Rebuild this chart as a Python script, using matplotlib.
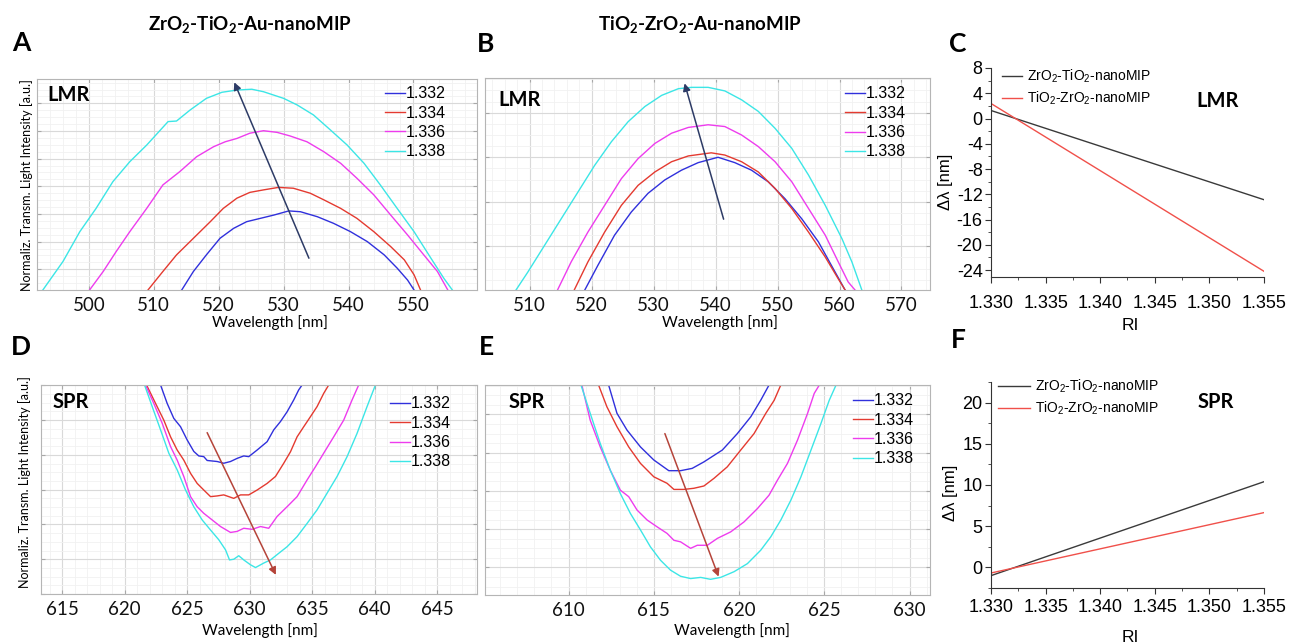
"""Refractive-index response of the LMR and SPR bands (ZrO2/TiO2 nanoMIP)."""
import matplotlib.pyplot as plt
from matplotlib.ticker import MultipleLocator, AutoMinorLocator, FormatStrFormatter

plt.rcParams["axes.unicode_minus"] = False
plt.rcParams["mathtext.fontset"] = "custom"
plt.rcParams["mathtext.rm"] = "Liberation Sans"
plt.rcParams["mathtext.bf"] = "Lato:bold"

W, H = 1300, 644

RI_LABELS = ["1.332", "1.334", "1.336", "1.338"]
SPEC_COLORS = ["#3030dc", "#e43a30", "#ee3cee", "#3ce6e6"]

# ---- A: ZrO2-TiO2-Au-nanoMIP, LMR (order 1.332, 1.334, 1.336, 1.338)
A_WL = [
    [514.3, 516.1, 518.1, 520.2, 522.3, 524.3, 526.4, 528.5, 530.8, 532.6, 535.2,
     537.7, 540.3, 542.9, 545.5, 547.5, 549.1, 550.1],
    [509.1, 511.4, 513.5, 516.1, 518.7, 520.7, 522.8, 524.8, 526.9, 529.2, 531.5,
     534.1, 536.2, 538.8, 541.3, 543.9, 546.5, 548.6, 550.1, 551.1],
    [500.1, 502.2, 504.2, 506.3, 508.9, 511.4, 514.0, 516.6, 519.2, 521.0, 522.8,
     524.8, 526.9, 529.0, 531.0, 533.6, 536.2, 538.8, 541.3, 543.9, 546.5, 549.1,
     551.6, 553.7, 555.3],
    [492.9, 496.0, 498.6, 501.1, 503.7, 506.3, 508.9, 512.2, 513.5, 515.6, 518.1,
     520.5, 522.8, 525.1, 526.9, 530.0, 532.1, 534.6, 537.2, 539.8, 542.4, 544.9,
     547.5, 550.1, 552.7, 554.7, 556.0],
]
A_INT = [
    [0.25, 0.92, 1.52, 2.12, 2.48, 2.72, 2.84, 2.96, 3.11, 3.08, 2.90,
     2.66, 2.36, 2.00, 1.52, 1.04, 0.61, 0.25],
    [0.25, 0.92, 1.52, 2.12, 2.72, 3.20, 3.57, 3.78, 3.87, 3.96, 3.93,
     3.75, 3.51, 3.20, 2.84, 2.36, 1.82, 1.34, 0.80, 0.25],
    [0.25, 0.92, 1.64, 2.36, 3.20, 4.05, 4.53, 5.07, 5.43, 5.61, 5.73,
     5.92, 6.01, 5.95, 5.82, 5.61, 5.25, 4.83, 4.29, 3.69, 2.96, 2.24,
     1.52, 0.92, 0.25],
    [0.25, 1.28, 2.36, 3.20, 4.17, 4.89, 5.49, 6.34, 6.36, 6.76, 7.18,
     7.40, 7.48, 7.51, 7.42, 7.18, 6.94, 6.58, 6.04, 5.49, 4.83, 4.05,
     3.20, 2.36, 1.40, 0.67, 0.25],
]

# ---- B: TiO2-ZrO2-Au-nanoMIP, LMR
B_WL = [
    [518.9, 521.0, 523.7, 526.4, 529.1, 531.8, 534.5, 537.2, 540.4, 543.1, 545.8,
     548.5, 551.2, 553.9, 556.6, 558.7, 560.9],
    [517.2, 519.4, 522.1, 524.8, 527.5, 530.2, 532.9, 535.6, 539.3, 541.5, 544.2,
     546.9, 549.6, 552.3, 555.0, 557.7, 559.8, 560.9],
    [514.5, 516.7, 519.4, 522.1, 524.8, 527.5, 530.2, 532.9, 535.6, 538.8, 541.5,
     544.2, 546.9, 549.6, 552.3, 555.0, 557.7, 559.8, 561.4, 562.5],
    [507.8, 509.7, 512.4, 515.1, 517.8, 520.5, 523.2, 525.9, 528.6, 531.3, 534.0,
     536.1, 538.8, 541.5, 544.2, 546.9, 549.6, 552.3, 555.0, 557.7, 560.4, 562.0,
     563.6],
]
B_INT = [
    [0.02, 0.57, 1.25, 1.77, 2.19, 2.49, 2.71, 2.88, 3.00, 2.88, 2.71,
     2.45, 2.07, 1.62, 1.10, 0.57, 0.02],
    [0.02, 0.65, 1.32, 1.92, 2.37, 2.67, 2.90, 3.03, 3.10, 3.05, 2.90,
     2.67, 2.30, 1.85, 1.32, 0.76, 0.27, 0.02],
    [0.02, 0.65, 1.32, 1.92, 2.52, 2.97, 3.31, 3.54, 3.67, 3.73, 3.69,
     3.50, 3.24, 2.90, 2.45, 1.85, 1.25, 0.65, 0.20, 0.02],
    [0.02, 0.42, 1.02, 1.62, 2.22, 2.82, 3.35, 3.80, 4.14, 4.39, 4.54,
     4.57, 4.57, 4.49, 4.29, 4.03, 3.65, 3.20, 2.60, 1.92, 1.17, 0.65,
     0.02],
]

# ---- D: ZrO2-TiO2-Au-nanoMIP, SPR
D_WL = [
    [622.87, 623.40, 623.93, 624.47, 625.00, 625.53, 625.93, 626.33, 626.60, 627.40,
     627.93, 628.47, 629.00, 629.53, 629.93, 630.60, 631.40, 631.93, 632.47, 633.00,
     633.53, 633.93, 634.20],
    [621.75, 622.47, 623.13, 623.67, 624.20, 624.73, 625.27, 625.80, 626.33, 626.87,
     627.40, 627.93, 628.73, 629.27, 629.93, 630.60, 631.40, 632.07, 632.73, 633.27,
     633.80, 634.33, 634.87, 635.40, 635.93, 636.33],
    [621.67, 622.33, 623.00, 623.67, 624.20, 624.73, 625.27, 625.80, 626.33, 627.00,
     627.67, 628.47, 629.00, 629.53, 630.20, 630.87, 631.53, 632.20, 633.00, 633.80,
     634.60, 635.27, 635.93, 636.73, 637.53, 638.20, 638.73],
    [621.59, 622.20, 622.87, 623.53, 624.20, 624.87, 625.53, 626.20, 626.87, 627.53,
     628.07, 628.39, 628.73, 629.13, 629.53, 630.07, 630.47, 631.13, 631.67, 632.33,
     633.00, 633.80, 634.60, 635.40, 636.20, 637.00, 637.80, 638.60, 639.40, 640.07],
]
D_INT = [
    [6.01, 5.48, 5.05, 4.81, 4.43, 4.10, 3.97, 3.95, 3.84, 3.81, 3.76, 3.81, 3.90,
     3.97, 3.95, 4.14, 4.38, 4.72, 4.96, 5.24, 5.58, 5.87, 6.01],
    [6.01, 5.48, 5.00, 4.52, 4.14, 3.85, 3.47, 3.18, 2.99, 2.80, 2.82, 2.85, 2.75,
     2.85, 2.85, 2.99, 3.18, 3.38, 3.76, 4.09, 4.52, 4.81, 5.10, 5.39, 5.77, 6.01],
    [6.01, 5.48, 4.91, 4.24, 3.85, 3.38, 2.80, 2.51, 2.32, 2.13, 1.94, 1.77, 1.80,
     1.89, 1.86, 1.94, 1.89, 2.23, 2.51, 2.80, 3.28, 3.66, 4.05, 4.52, 5.00, 5.58,
     6.01],
    [6.01, 5.39, 4.72, 4.05, 3.57, 2.99, 2.51, 2.13, 1.84, 1.56, 1.27, 0.98, 1.00,
     1.10, 0.98, 0.84, 0.76, 0.89, 0.98, 1.17, 1.36, 1.65, 2.03, 2.42, 2.90, 3.38,
     3.95, 4.62, 5.39, 6.01],
]

# ---- E: TiO2-ZrO2-Au-nanoMIP, SPR
E_WL = [
    [612.35, 612.84, 613.43, 614.22, 615.00, 615.88, 616.57, 617.25, 617.94, 619.02,
     619.90, 620.69, 621.27, 621.76],
    [611.76, 612.25, 612.84, 613.53, 614.22, 615.00, 615.78, 616.18, 616.76, 617.35,
     617.94, 618.53, 619.31, 620.10, 620.88, 621.57, 622.06, 622.45],
    [610.78, 611.27, 611.86, 612.45, 613.04, 613.53, 614.02, 614.61, 615.20, 615.78,
     616.18, 616.57, 617.16, 617.55, 618.14, 618.73, 619.51, 620.29, 621.08, 621.76,
     622.25, 622.84, 623.43, 624.02, 624.41, 624.71],
    [610.73, 611.27, 611.86, 612.45, 613.04, 613.63, 614.22, 614.80, 615.39, 615.98,
     616.57, 617.16, 617.75, 618.33, 618.92, 619.71, 620.49, 621.27, 621.86, 622.45,
     623.04, 623.63, 624.22, 624.80, 625.29, 625.69],
]
E_INT = [
    [5.77, 5.03, 4.59, 4.15, 3.81, 3.53, 3.53, 3.59, 3.76, 4.07, 4.50, 4.94, 5.37, 5.77],
    [5.77, 5.20, 4.68, 4.15, 3.72, 3.37, 3.20, 3.04, 3.04, 3.07, 3.13, 3.33, 3.63,
     4.07, 4.50, 5.03, 5.37, 5.77],
    [5.77, 4.85, 4.15, 3.54, 3.02, 2.85, 2.50, 2.24, 2.06, 1.89, 1.71, 1.67, 1.50,
     1.58, 1.58, 1.76, 1.93, 2.19, 2.54, 2.89, 3.28, 3.72, 4.33, 5.03, 5.55, 5.77],
    [5.77, 5.03, 4.24, 3.54, 2.93, 2.41, 1.98, 1.54, 1.19, 0.93, 0.77, 0.71, 0.74,
     0.69, 0.74, 0.89, 1.10, 1.45, 1.80, 2.24, 2.76, 3.37, 4.07, 4.76, 5.37, 5.77],
]

# shift arrows (tail, head) in data units
A_ARROW = ((533.9, 1.40), (522.4, 7.76))
B_ARROW = ((541.3, 1.61), (535.0, 4.66))
D_ARROW = ((626.6, 4.64), (632.1, 0.55))
E_ARROW = ((615.65, 4.50), (618.8, 0.76))

# ---- C / F: linear fits of the wavelength shift vs RI
RI_FIT = [1.330, 1.355]
C_ZR_TI = [1.27, -12.86]
C_TI_ZR = [2.38, -24.2]
F_ZR_TI = [-1.0, 10.4]
F_TI_ZR = [-0.68, 6.65]
FIT_LABELS = [r"ZrO$_2$-TiO$_2$-nanoMIP", r"TiO$_2$-ZrO$_2$-nanoMIP"]


def rect(l, t, r, b):
    return [l / W, 1 - b / H, (r - l) / W, (b - t) / H]


def ftext(x, y, s, **kw):
    fig.text(x / W, 1 - y / H, s, **kw)


fig = plt.figure(figsize=(W / 100, H / 100), dpi=100)


def spectrum_panel(box, wls, ints, xlim, ylim, xstep, arrow, acolor, tag, tag_xy, leg_xy):
    ax = fig.add_axes(rect(*box))
    for wl, it, c, lab in zip(wls, ints, SPEC_COLORS, RI_LABELS):
        ax.plot(wl, it, color=c, lw=1.0, label=lab)
    ax.set_xlim(*xlim)
    ax.set_ylim(*ylim)
    ax.xaxis.set_major_locator(MultipleLocator(xstep))
    ax.xaxis.set_minor_locator(AutoMinorLocator(5))
    ax.yaxis.set_major_locator(MultipleLocator(1))
    ax.yaxis.set_minor_locator(AutoMinorLocator(4))
    ax.grid(which="major", color="#d9d9d9", lw=0.8)
    ax.grid(which="minor", color="#f1f1f1", lw=0.6)
    ax.set_axisbelow(True)
    for s in ax.spines.values():
        s.set_color("#b5b5b5")
    ax.tick_params(which="both", direction="in", top=True, right=True,
                   color="#a8a8a8", labelleft=False)
    ax.tick_params(which="major", length=3, pad=5, labelsize=13.5, labelcolor="#111")
    ax.tick_params(which="minor", length=0)
    for lab in ax.get_xticklabels():
        lab.set_family("Lato")
    ax.annotate("", xy=arrow[1], xytext=arrow[0],
                arrowprops=dict(arrowstyle="-|>", color=acolor, lw=1.1,
                                mutation_scale=11, shrinkA=0, shrinkB=0))
    ax.text(tag_xy[0], tag_xy[1], tag, transform=ax.transAxes, family="Lato",
            weight="bold", fontsize=14.5, ha="left", va="center")
    ax.legend(loc="upper left", bbox_to_anchor=leg_xy, frameon=False, borderpad=0,
              borderaxespad=0, handlelength=1.25, handletextpad=0.05, labelspacing=0.27,
              prop={"family": "Liberation Sans", "size": 11.5})
    return ax


spectrum_panel((37, 79, 477, 290), A_WL, A_INT, (492, 559.8), (0.25, 7.88), 10,
               A_ARROW, "#2d3b66", "LMR", (0.023, 0.924), (0.791, 0.965))
spectrum_panel((485, 78, 930, 290), B_WL, B_INT, (502.8, 574.6), (0.02, 4.78), 10,
               B_ARROW, "#2d3b66", "LMR", (0.029, 0.896), (0.809, 0.960))
spectrum_panel((41, 385, 477, 594), D_WL, D_INT, (613.3, 648.2), (0.0, 6.01), 5,
               D_ARROW, "#b5443a", "SPR", (0.027, 0.92), (0.800, 0.945))
spectrum_panel((485, 385, 930, 595), E_WL, E_INT, (605.1, 631.2), (0.28, 5.77), 5,
               E_ARROW, "#b5443a", "SPR", (0.052, 0.92), (0.827, 0.960))


def fit_panel(box, ylim, ystep, zt, tz, tag, tag_xy, leg_xy, handlelen, xpad):
    ax = fig.add_axes(rect(*box))
    ax.plot(RI_FIT, zt, color="#3a3a3a", lw=1.0, label=FIT_LABELS[0])
    ax.plot(RI_FIT, tz, color="#f0504a", lw=1.0, label=FIT_LABELS[1])
    ax.set_xlim(1.330, 1.355)
    ax.set_ylim(*ylim)
    ax.xaxis.set_major_locator(MultipleLocator(0.005))
    ax.xaxis.set_major_formatter(FormatStrFormatter("%.3f"))
    ax.xaxis.set_minor_locator(AutoMinorLocator(2))
    ax.yaxis.set_major_locator(MultipleLocator(ystep))
    ax.yaxis.set_minor_locator(AutoMinorLocator(2))
    for side in ("top", "right"):
        ax.spines[side].set_visible(False)
    for side in ("left", "bottom"):
        ax.spines[side].set_color("#333")
    ax.tick_params(which="both", direction="out", color="#333")
    ax.tick_params(which="major", length=4, labelsize=13)
    ax.tick_params(which="minor", length=2.5)
    ax.tick_params(axis="x", pad=xpad)
    ax.tick_params(axis="y", pad=2)
    for lab in ax.get_xticklabels() + ax.get_yticklabels():
        lab.set_family("Liberation Sans")
    ax.text(tag_xy[0], tag_xy[1], tag, transform=ax.transAxes, family="Lato",
            weight="bold", fontsize=14.5, ha="center", va="center")
    ax.legend(loc="upper left", bbox_to_anchor=leg_xy, frameon=False, borderpad=0,
              borderaxespad=0, handlelength=handlelen, handletextpad=0.35,
              labelspacing=0.3, prop={"family": "Liberation Sans", "size": 10})
    return ax


fit_panel((991, 68, 1264, 277), (-25.1, 8.0), 4, C_ZR_TI, C_TI_ZR, "LMR",
          (0.83, 0.843), (0.04, 1.0), 1.45, 9)
fit_panel((991, 382, 1264, 588), (-2.5, 22.5), 5, F_ZR_TI, F_TI_ZR, "SPR",
          (0.825, 0.903), (0.026, 1.02), 2.3, 4)

# labels around the panels
for x, y, s in [(21, 43, "A"), (486, 44, "B"), (958, 44, "C"),
                (21, 347, "D"), (486, 347, "E"), (958, 340, "F")]:
    ftext(x, y, s, family="Lato", weight="bold", fontsize=19, ha="center", va="center")

ftext(250, 25, r"ZrO$_\mathbf{2}$-TiO$_\mathbf{2}$-Au-nanoMIP", family="Lato",
      weight="bold", fontsize=13.5, ha="center", va="center")
ftext(700, 25, r"TiO$_\mathbf{2}$-ZrO$_\mathbf{2}$-Au-nanoMIP", family="Lato",
      weight="bold", fontsize=13.5, ha="center", va="center")

for x, y in [(270, 323), (720, 323), (260, 631), (732, 631)]:
    ftext(x, y, "Wavelength [nm]", family="Lato", fontsize=11, ha="center", va="center")
for x, y in [(27, 185), (25, 482)]:
    ftext(x, y, "Normaliz. Transm. Light Intensity [a.u.]", family="Lato",
          fontsize=9, rotation=90, ha="center", va="center")
for x, y in [(1130, 325), (1130, 637)]:
    ftext(x, y, "RI", family="Liberation Sans", fontsize=12.5, ha="center", va="center")
for x, y in [(946, 182), (951, 493)]:
    ftext(x, y, "Δλ [nm]", family="Liberation Sans", fontsize=12, rotation=90,
          ha="center", va="center")

fig.savefig("out.png", dpi=100)
plt.close(fig)
